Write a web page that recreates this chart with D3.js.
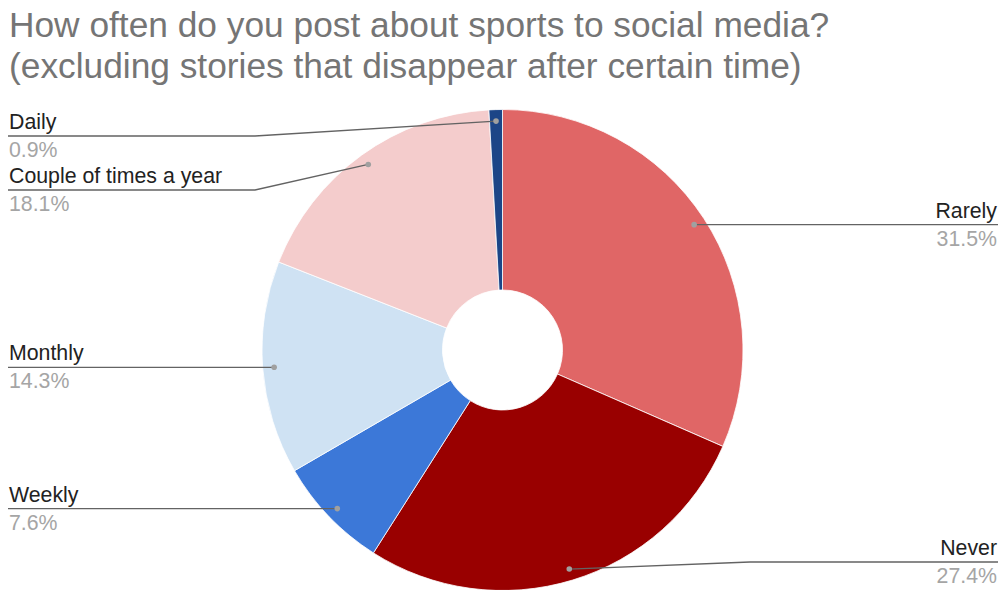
<!DOCTYPE html>
<html>
<head>
<meta charset="utf-8">
<script src="https://cdn.jsdelivr.net/npm/d3@7"></script>
<style>
  html, body { margin: 0; padding: 0; background: #ffffff; }
  svg { display: block; font-family: Arial, "Liberation Sans", sans-serif; }
</style>
</head>
<body>
<svg id="chart" width="1001" height="590"></svg>
<script>
// Survey answers, in clockwise order from 12 o'clock
const categories = ["Rarely", "Never", "Weekly", "Monthly", "Couple of times a year", "Daily"];
const shares = [31.5, 27.4, 7.6, 14.3, 18.1, 0.9];
const percentLabels = ["31.5%", "27.4%", "7.6%", "14.3%", "18.1%", "0.9%"];
const sliceColors = ["#e06666", "#990000", "#3c78d8", "#cfe2f3", "#f4cccc", "#1c4587"];
const titleLines = [
  "How often do you post about sports to social media?",
  "(excluding stories that disappear after certain time)"
];

const width = 1001, height = 590;
const cx = 502.5, cy = 350;
const outerR = 240.5, innerR = 60, dotR = 229;

const svg = d3.select("#chart");

// Title
svg.append("g").selectAll("text")
  .data(titleLines)
  .join("text")
  .attr("x", 9)
  .attr("y", (d, i) => 37 + i * 41)
  .attr("font-size", 35.3)
  .attr("fill", "#757575")
  .text(d => d);

const data = categories.map((c, i) => ({ name: c, value: shares[i], pct: percentLabels[i], color: sliceColors[i] }));

const pie = d3.pie().value(d => d.value).sort(null);
const arcs = pie(data);
const arc = d3.arc().innerRadius(innerR).outerRadius(outerR);
const dotArc = d3.arc().innerRadius(dotR).outerRadius(dotR);

const g = svg.append("g").attr("transform", `translate(${cx},${cy})`);

g.selectAll("path.slice")
  .data(arcs)
  .join("path")
  .attr("class", "slice")
  .attr("d", arc)
  .attr("fill", d => d.data.color)
  .attr("stroke", "#ffffff")
  .attr("stroke-width", 0.8);

// Label layout: each side stacked top to bottom, kept inside vertical bounds
const minLineY = 136, maxLineY = 562, gap = 54;
const leftKneeX = 255, rightKneeX = 750;
const items = arcs.map(a => {
  const [x, y] = dotArc.centroid(a);
  const mid = (a.startAngle + a.endAngle) / 2;
  return { a, dx: cx + x, dy: cy + y, side: mid > Math.PI ? "left" : "right" };
});

["left", "right"].forEach(side => {
  const list = items.filter(d => d.side === side).sort((p, q) => p.dy - q.dy);
  list.forEach((d, i) => {
    let y = Math.max(minLineY, Math.min(maxLineY, d.dy));
    if (i > 0) y = Math.max(y, list[i - 1].lineY + gap);
    d.lineY = y;
  });
  // push back upward if the bottom bound is exceeded
  for (let i = list.length - 1; i >= 0; i--) {
    if (list[i].lineY > maxLineY) list[i].lineY = maxLineY;
    if (i < list.length - 1 && list[i].lineY > list[i + 1].lineY - gap) list[i].lineY = list[i + 1].lineY - gap;
  }
});

const labels = svg.append("g");

labels.selectAll("path.leader")
  .data(items)
  .join("path")
  .attr("class", "leader")
  .attr("fill", "none")
  .attr("stroke", "#636363")
  .attr("stroke-width", 1.3)
  .attr("d", d => {
    if (d.side === "left") {
      return d3.line()([[d.dx, d.dy], [leftKneeX, d.lineY], [8, d.lineY]]);
    }
    return d3.line()([[d.dx, d.dy], [rightKneeX, d.lineY], [998, d.lineY]]);
  });

labels.selectAll("circle.dot")
  .data(items)
  .join("circle")
  .attr("class", "dot")
  .attr("cx", d => d.dx)
  .attr("cy", d => d.dy)
  .attr("r", 2.8)
  .attr("fill", "#a0a0a0");

labels.selectAll("text.name")
  .data(items)
  .join("text")
  .attr("class", "name")
  .attr("x", d => d.side === "left" ? 9 : 997)
  .attr("y", d => d.lineY - 7)
  .attr("text-anchor", d => d.side === "left" ? "start" : "end")
  .attr("font-size", 21.3)
  .attr("fill", "#222222")
  .text(d => d.a.data.name);

labels.selectAll("text.pct")
  .data(items)
  .join("text")
  .attr("class", "pct")
  .attr("x", d => d.side === "left" ? 9 : 997)
  .attr("y", d => d.lineY + 21)
  .attr("text-anchor", d => d.side === "left" ? "start" : "end")
  .attr("font-size", 21.3)
  .attr("fill", "#a5a5a5")
  .text(d => d.a.data.pct);
</script>
</body>
</html>
